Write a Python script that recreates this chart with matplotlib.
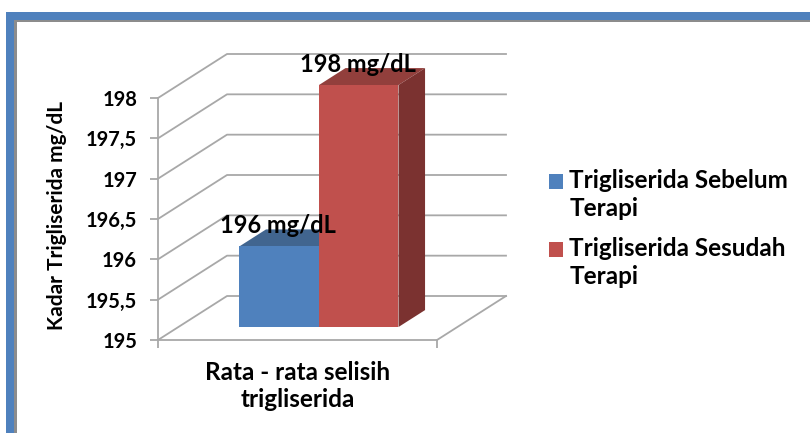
import matplotlib
matplotlib.use('Agg')
import matplotlib.pyplot as plt
from matplotlib.patches import Polygon, Rectangle
from matplotlib.legend_handler import HandlerPatch

# chart data
category = 'Rata - rata selisih\ntrigliserida'
series_names = ['Trigliserida Sebelum\nTerapi', 'Trigliserida Sesudah\nTerapi']
series_values = [196, 198]
value_labels = ['196 mg/dL', '198 mg/dL']
y_ticks = [195, 195.5, 196, 196.5, 197, 197.5, 198]
y_tick_labels = ['195', '195,5', '196', '196,5', '197', '197,5', '198']
y_title = 'Kadar Trigliserida mg/dL'

front = ['#4F81BD', '#C0504D']
top = ['#41658F', '#923F3C']
side = ['#3A5C87', '#7B3230']
GRID = '#A8A8A8'

W, H = 810, 433
plt.rcParams['font.family'] = ['Lato', 'DejaVu Sans']
plt.rcParams['font.weight'] = 'bold'

fig = plt.figure(figsize=(W / 100, H / 100), dpi=100)

# frame round the picture
def frame(x0, y0, x1, y1, color):
  fig.add_artist(Rectangle((x0 / W, 1 - y1 / H), (x1 - x0) / W, (y1 - y0) / H,
                           transform=fig.transFigure, fc=color, ec='none'))
frame(6, 20, 810, 21.5, '#8C8C8C')
frame(14, 20, 16.5, 433, '#8C8C8C')
frame(6, 12, 810, 20, '#4F81BD')
frame(6, 12, 14, 433, '#4F81BD')

# front plane of the 3d box
ax = fig.add_axes([158 / W, 1 - 340 / H, (437 - 158) / W, (340 - 98) / H])
ax.patch.set_visible(False)
ax.set_xlim(0, 1)
ax.set_ylim(195, 198)

DX = 69 / 279   # depth of box in x units
DY = 44 / 80.67 # depth of box in value units

def pr(x, v, d):
  return (x + d * DX, v + d * DY)

# walls
for v in y_ticks:
  xs, ys = zip(pr(0, v, 0), pr(0, v, 1), pr(1, v, 1))
  ax.plot(xs, ys, color=GRID, lw=1.3, clip_on=False, zorder=1)
xs, ys = zip(pr(1, 195, 0), pr(1, 195, 1))
ax.plot(xs, ys, color=GRID, lw=1.3, clip_on=False, zorder=1)

# bars
bar_x = 0.219
bar_w = 0.285
d0 = 0.295
d1 = 0.68
for i, val in enumerate(series_values):
  x0 = bar_x + i * bar_w
  x1 = x0 + bar_w
  ax.add_patch(Polygon([pr(x0, val, d0), pr(x1, val, d0), pr(x1, val, d1), pr(x0, val, d1)],
                       fc=top[i], ec='none', clip_on=False, zorder=2))
  ax.add_patch(Polygon([pr(x1, 195, d0), pr(x1, val, d0), pr(x1, val, d1), pr(x1, 195, d1)],
                       fc=side[i], ec='none', clip_on=False, zorder=2))
  ax.add_patch(Polygon([pr(x0, 195, d0), pr(x1, 195, d0), pr(x1, val, d0), pr(x0, val, d0)],
                       fc=front[i], ec='none', clip_on=False, zorder=3, label=series_names[i]))
  lx, ly = pr(x0 + bar_w / 2, val, d0)
  ax.text(lx - 0.004, ly + 0.26, value_labels[i], ha='center', va='center', fontsize=17,
          color='black', zorder=5)

# axes
for s in ['top', 'right']:
  ax.spines[s].set_visible(False)
for s in ['left', 'bottom']:
  ax.spines[s].set_color(GRID)
  ax.spines[s].set_linewidth(1.3)
ax.set_yticks(y_ticks)
ax.set_yticklabels(y_tick_labels, fontsize=14.5)
ax.tick_params(axis='y', length=6, width=1.3, color=GRID, pad=9)
ax.set_xticks([0, 1])
ax.set_xticklabels(['', ''])
ax.tick_params(axis='x', which='major', length=6, width=1.3, color=GRID)
ax.set_xticks([0.5], minor=True)
ax.set_xticklabels([category], minor=True, fontsize=17.5, linespacing=1.2)
ax.tick_params(axis='x', which='minor', length=0, pad=15)
ax.set_ylabel(y_title, fontsize=15, fontweight='bold')
ax.yaxis.set_label_coords((67 - 158) / 279, 0.515)

# legend, marker stands level with the first text line
def first_line_patch(legend, orig_handle, xdescent, ydescent, width, height, fontsize):
  return Rectangle((-xdescent, -ydescent + 10), width, height)

leg = ax.legend(loc='upper left', bbox_to_anchor=(549 / W, 1 - 169 / H),
                bbox_transform=fig.transFigure, frameon=False, fontsize=17.5,
                handlelength=0.58, handleheight=0.55, handletextpad=0.26,
                labelspacing=0.72, borderpad=0, borderaxespad=0,
                handler_map={Polygon: HandlerPatch(patch_func=first_line_patch)})
for t in leg.get_texts():
  t.set_linespacing(1.25)

fig.savefig('out.png', dpi=100)
